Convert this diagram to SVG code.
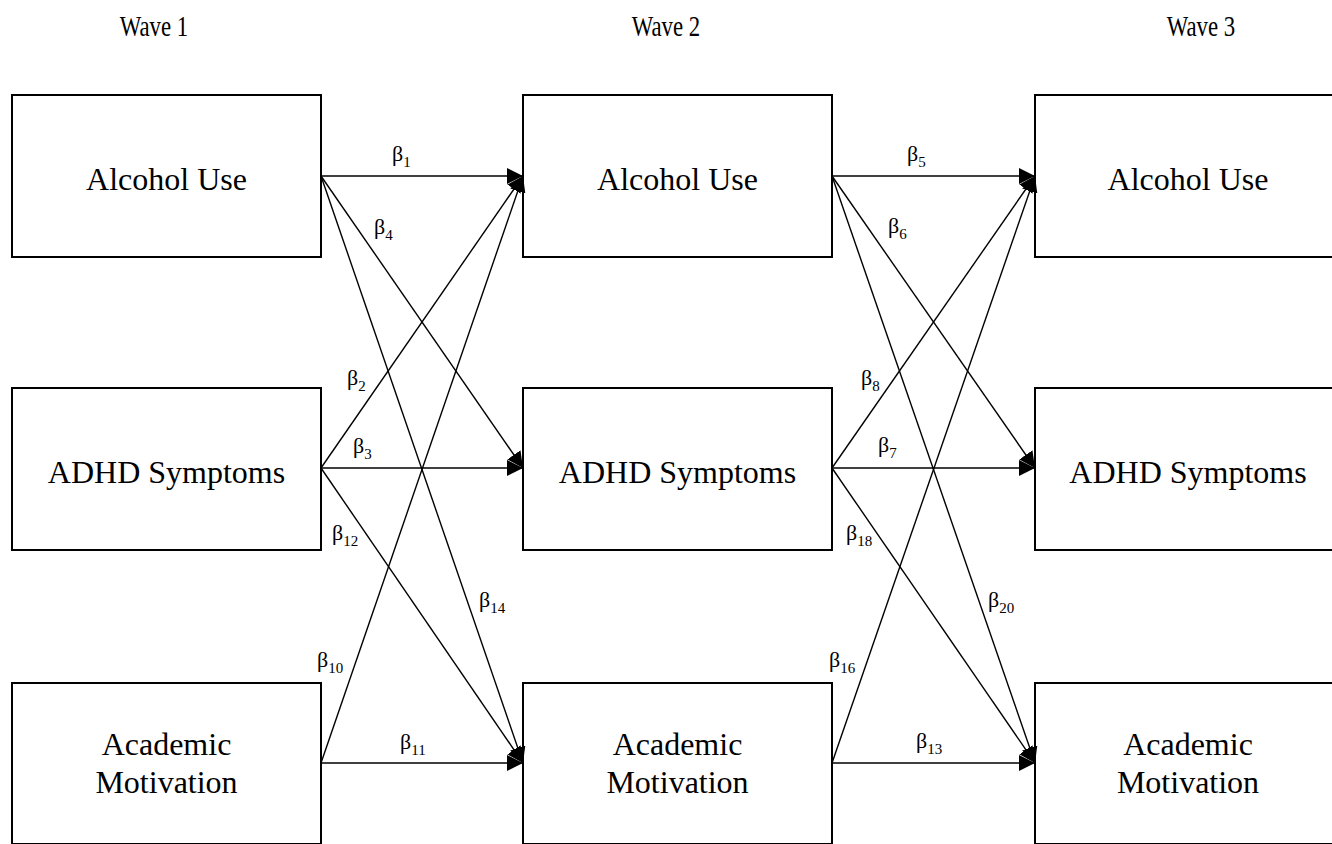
<svg xmlns="http://www.w3.org/2000/svg" width="1332" height="844" viewBox="0 0 1332 844">
  <style>
    text { font-family: "Liberation Serif", Tinos, "Times New Roman", Times, "DejaVu Serif", serif; fill: #000; }
    .box { fill: #fff; stroke: #000; stroke-width: 2; }
    .label { font-size: 32px; text-anchor: middle; }
    .wave { font-size: 30px; text-anchor: middle; }
    .path { stroke: #000; stroke-width: 1.4; fill: none; marker-end: url(#head); }
    .beta { font-size: 22px; }
    .sub { font-size: 15px; }
  </style>
  <defs>
    <marker id="head" markerUnits="userSpaceOnUse" markerWidth="16" markerHeight="16" refX="16" refY="8" orient="auto">
      <path d="M0,0 L16,8 L0,16 Z" fill="#000"/>
    </marker>
  </defs>

  <rect width="1332" height="844" fill="#fff"/>

  <!-- column headings (narrow, tall lettering) -->
  <g id="headings">
    <text class="wave" transform="translate(154,36) scale(0.76,1)">Wave 1</text>
    <text class="wave" transform="translate(666,36) scale(0.76,1)">Wave 2</text>
    <text class="wave" transform="translate(1201,36) scale(0.76,1)">Wave 3</text>
  </g>

  <!-- wave 1 -->
  <g id="alcohol-w1">
    <rect class="box" x="12" y="95" width="309" height="162"/>
    <text class="label" x="166.5" y="190">Alcohol Use</text>
  </g>
  <g id="adhd-w1">
    <rect class="box" x="12" y="388" width="309" height="162"/>
    <text class="label" x="166.5" y="483">ADHD Symptoms</text>
  </g>
  <g id="motivation-w1">
    <rect class="box" x="12" y="683" width="309" height="161"/>
    <text class="label" x="166.5" y="755">Academic</text>
    <text class="label" x="166.5" y="793">Motivation</text>
  </g>

  <!-- wave 2 -->
  <g id="alcohol-w2">
    <rect class="box" x="523" y="95" width="309" height="162"/>
    <text class="label" x="677.5" y="190">Alcohol Use</text>
  </g>
  <g id="adhd-w2">
    <rect class="box" x="523" y="388" width="309" height="162"/>
    <text class="label" x="677.5" y="483">ADHD Symptoms</text>
  </g>
  <g id="motivation-w2">
    <rect class="box" x="523" y="683" width="309" height="161"/>
    <text class="label" x="677.5" y="755">Academic</text>
    <text class="label" x="677.5" y="793">Motivation</text>
  </g>

  <!-- wave 3 (boxes run past the right edge) -->
  <g id="alcohol-w3">
    <rect class="box" x="1035" y="95" width="309" height="162"/>
    <text class="label" x="1188" y="190">Alcohol Use</text>
  </g>
  <g id="adhd-w3">
    <rect class="box" x="1035" y="388" width="309" height="162"/>
    <text class="label" x="1188" y="483">ADHD Symptoms</text>
  </g>
  <g id="motivation-w3">
    <rect class="box" x="1035" y="683" width="309" height="161"/>
    <text class="label" x="1188" y="755">Academic</text>
    <text class="label" x="1188" y="793">Motivation</text>
  </g>

  <!-- cross-lagged paths -->
  <g id="connectors">
    <!-- wave 1 to wave 2 -->
    <line class="path" x1="321" y1="176" x2="523" y2="176"/>
    <line class="path" x1="321" y1="176" x2="523" y2="468"/>
    <line class="path" x1="321" y1="176" x2="523" y2="763"/>
    <line class="path" x1="321" y1="468" x2="523" y2="176"/>
    <line class="path" x1="321" y1="468" x2="523" y2="468"/>
    <line class="path" x1="321" y1="468" x2="523" y2="763"/>
    <line class="path" x1="321" y1="763" x2="523" y2="176"/>
    <line class="path" x1="321" y1="763" x2="523" y2="763"/>
    <!-- wave 2 to wave 3 -->
    <line class="path" x1="832" y1="176" x2="1035" y2="176"/>
    <line class="path" x1="832" y1="176" x2="1035" y2="468"/>
    <line class="path" x1="832" y1="176" x2="1035" y2="763"/>
    <line class="path" x1="832" y1="468" x2="1035" y2="176"/>
    <line class="path" x1="832" y1="468" x2="1035" y2="468"/>
    <line class="path" x1="832" y1="468" x2="1035" y2="763"/>
    <line class="path" x1="832" y1="763" x2="1035" y2="176"/>
    <line class="path" x1="832" y1="763" x2="1035" y2="763"/>
  </g>

  <!-- path coefficients -->
  <g id="coefficients">
    <text class="beta" x="392" y="161">β<tspan class="sub" dy="6">1</tspan></text>
    <text class="beta" x="374" y="234">β<tspan class="sub" dy="6">4</tspan></text>
    <text class="beta" x="347" y="385">β<tspan class="sub" dy="6">2</tspan></text>
    <text class="beta" x="353" y="453">β<tspan class="sub" dy="6">3</tspan></text>
    <text class="beta" x="332" y="540">β<tspan class="sub" dy="6">12</tspan></text>
    <text class="beta" x="479" y="607">β<tspan class="sub" dy="6">14</tspan></text>
    <text class="beta" x="317" y="667">β<tspan class="sub" dy="6">10</tspan></text>
    <text class="beta" x="400" y="749">β<tspan class="sub" dy="6">11</tspan></text>

    <text class="beta" x="907" y="161">β<tspan class="sub" dy="6">5</tspan></text>
    <text class="beta" x="888" y="233">β<tspan class="sub" dy="6">6</tspan></text>
    <text class="beta" x="861" y="385">β<tspan class="sub" dy="6">8</tspan></text>
    <text class="beta" x="878" y="452">β<tspan class="sub" dy="6">7</tspan></text>
    <text class="beta" x="846" y="540">β<tspan class="sub" dy="6">18</tspan></text>
    <text class="beta" x="988" y="607">β<tspan class="sub" dy="6">20</tspan></text>
    <text class="beta" x="829" y="667">β<tspan class="sub" dy="6">16</tspan></text>
    <text class="beta" x="916" y="748">β<tspan class="sub" dy="6">13</tspan></text>
  </g>
</svg>
